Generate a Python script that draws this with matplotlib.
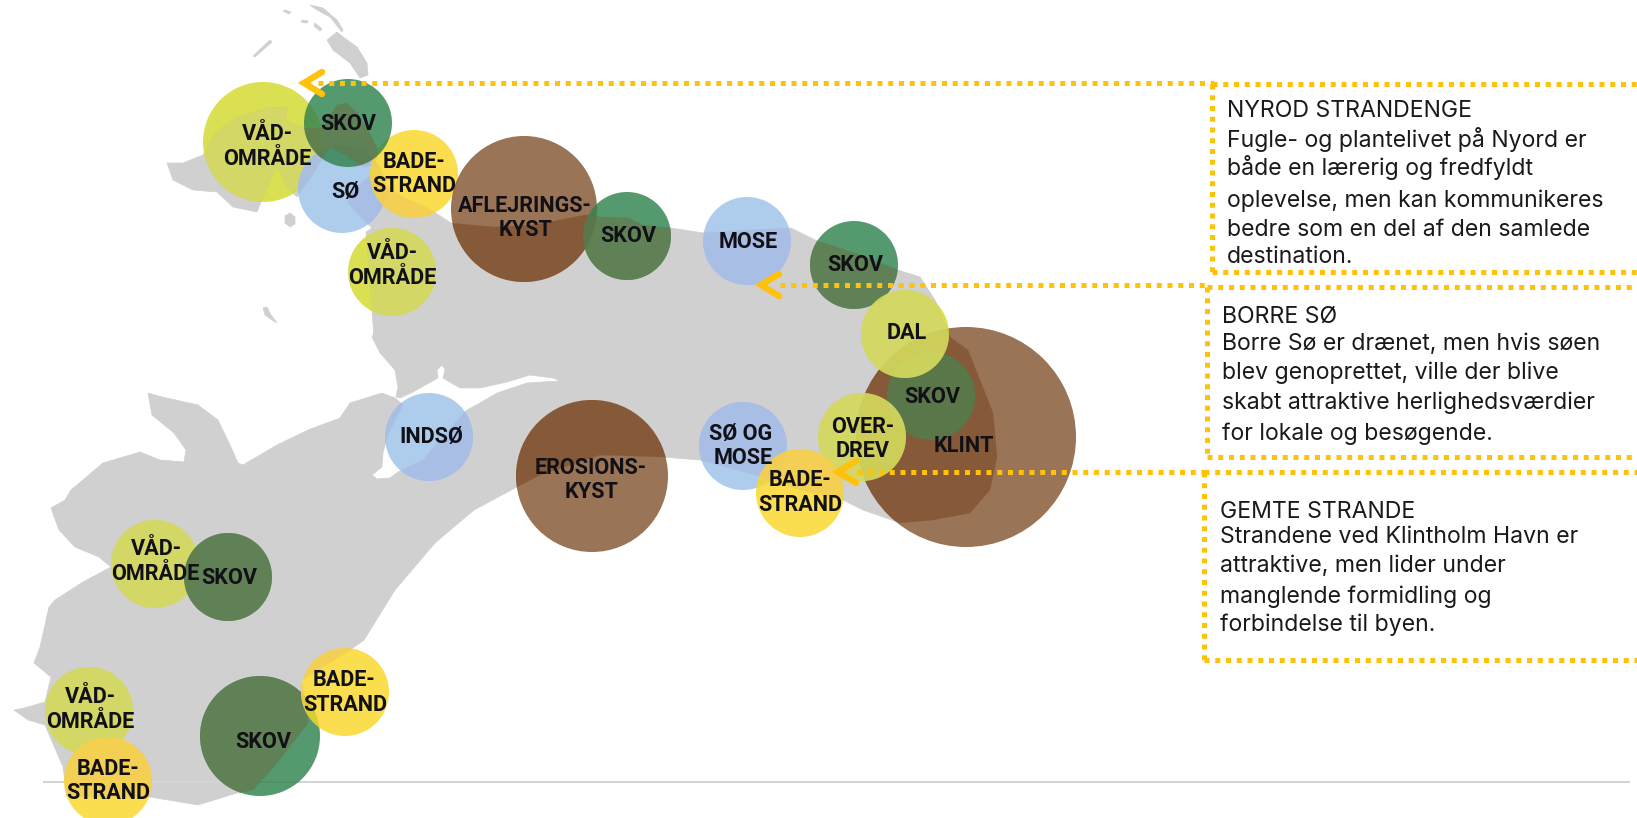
import numpy as np
import matplotlib
matplotlib.use("Agg")
import matplotlib.pyplot as plt
from matplotlib.patches import Circle, Polygon
from matplotlib.colors import to_rgb

# ---- background map outlines ----
land_main_x = [366,372,356,348,352,372,376,403,431,451,494,534,585,600,628,643,671,703,750,791,815,860,898,920,935,950,968,980,993,997,990,970,933,900,883,863,843,800,756,700,663,600,540,515,474,435,395,364,350,302,304,308,277,253,237,198,150,119,67,63,45,28,14,24,45,51,34,40,49,55,83,111,99,75,59,51,65,71,103,140,160,184,186,174,152,148,162,198,218,230,238,243,277,308,340,350,382,395,403,395,387,383,382,372,377,390,398,423,440,467,480,497,527,560,553,530,507,480,460,443,445,442,437,438,413,400,396,398,395,380,372,382,384,374,366]
land_main_y = [232,228,212,203,190,175,180,197,210,223,227,225,215,217,218,225,228,233,230,228,240,255,270,277,300,337,350,380,413,457,490,513,520,523,517,510,500,490,475,460,457,455,475,488,510,543,590,640,650,680,697,723,763,790,793,805,797,797,797,767,725,720,710,708,702,677,663,647,607,600,582,567,557,547,530,508,500,490,463,452,460,462,450,433,415,393,397,405,420,445,463,465,445,430,418,403,393,398,405,420,437,453,467,475,479,478,472,460,440,410,403,393,383,381,378,375,382,388,388,378,370,365,370,378,392,398,397,387,370,353,337,320,317,337,232]
nyord_x = [167,183,203,215,237,267,288,285,305,322,337,347,357,368,378,375,363,345,330,318,297,287,277,263,257,233,217,193,173]
nyord_y = [163,163,155,133,117,108,107,120,128,128,105,103,113,130,150,165,167,155,147,165,197,187,167,197,212,207,192,190,180]
islet_shapes = [
    ([327,337,343,357,367,368,360,350,333,327], [40,32,37,47,63,75,78,63,50,40]),
    ([310,323,337,343,342,330,317], [5,8,20,30,32,17,10]),
    ([285,291,289,283], [10,12,14,11]),
    ([302,308,307,301], [20,21,23,22]),
    ([315,322,320,314], [23,29,31,26]),
    ([253,270,272,255], [56,40,42,57]),
    ([285,290,295,295,290,285], [216,213,217,224,227,223]),
    ([263,267,271,277,272,265], [308,307,315,323,320,315]),
]

# ---- circles: category, centre x, centre y, radius ----
circle_kind = ["vaad","soe","bade","skov","brun","skov","vaad","soe","skov",
               "brun","skov","vaad","vaad","soe","bade",
               "brun","soe","vaad","skov","skov","bade","vaad","bade"]
circle_x = [263,342,414,348,524,627,392,747,854,
            966,931,905,862,743,800,
            592,429,155,228,260,345,89,108]
circle_y = [142,189,174,123,209,236,272,241,265,
            437,396,334,437,446,493,
            476,437,564,577,736,692,711,781]
circle_r = [60,44,44,44,73,44,44,44,44,
            110,44,44,44,44,44,
            76,44,44,44,60,44,44,44]

palette_white = {"vaad":"#dce052","skov":"#55996f","soe":"#aecdee","bade":"#fbde4f","brun":"#9a7456"}
palette_land  = {"vaad":"#d4d866","skov":"#608056","soe":"#a9bfe6","bade":"#f4d055","brun":"#875a38"}

# ---- labels ----
label_text = ["VÅD-","OMRÅDE","SKOV","SØ","BADE-","STRAND","AFLEJRINGS-","KYST","SKOV","VÅD-","OMRÅDE",
              "MOSE","SKOV","DAL","SKOV","KLINT","OVER-","DREV","SØ OG","MOSE","BADE-","STRAND",
              "EROSIONS-","KYST","INDSØ","VÅD-","OMRÅDE","SKOV","BADE-","STRAND","SKOV","VÅD-","OMRÅDE","BADE-","STRAND"]
label_x = [267,267,348,345,414,414,525,525,628,392,392,748,855,907,932,964,863,863,741,743,800,800,
           591,591,431,156,155,229,344,345,263,90,90,108,108]
label_y = [133,158,123,191,161,185,205,229,235,252,277,241,264,332,396,445,426,450,433,457,479,504,
           467,491,436,548,573,577,679,704,741,696,721,768,792]

# ---- text panels ----
panel_text = [
    ["NYROD STRANDENGE","Fugle- og plantelivet på Nyord er","både en lærerig og fredfyldt",
     "oplevelse, men kan kommunikeres","bedre som en del af den samlede","destination."],
    ["BORRE SØ","Borre Sø er drænet, men hvis søen","blev genoprettet, ville der blive",
     "skabt attraktive herlighedsværdier","for lokale og besøgende."],
    ["GEMTE STRANDE","Strandene ved Klintholm Havn er","attraktive, men lider under",
     "manglende formidling og","forbindelse til byen."],
]
panel_x = [1227,1222,1220]
panel_y = [[111,140,167,201,230,257],[317,344,373,403,434],[512,537,566,597,625]]

leader_start = [318,780,857]
leader_y = [83,285,472]
box_left = [1212,1207,1204]
box_top = [84,287,472]
box_bottom = [272,457,660]
arrow_tip = [301,758,835]

GOLD = "#ffc20a"
LAND = "#d0d0d0"
ALPHA = 0.82
TINT = 0.6

fig = plt.figure(figsize=(16.37,8.18), dpi=100)
ax = fig.add_axes([0,0,1,1])
ax.set_xlim(0,1637); ax.set_ylim(818,0); ax.axis("off")

land_polys = [list(zip(land_main_x,land_main_y)), list(zip(nyord_x,nyord_y))]
for pts in land_polys:
    ax.add_patch(Polygon(pts, closed=True, fc=LAND, ec=LAND, lw=0.5, zorder=1))
for sx,sy in islet_shapes:
    ax.add_patch(Polygon(list(zip(sx,sy)), closed=True, fc=LAND, ec=LAND, lw=0.5, zorder=1))

ax.plot([43,1630],[782,782], color="#d4d4d4", lw=1.5, zorder=1.5, solid_capstyle="butt")

def blend_colours(kind):
    w = np.array(to_rgb(palette_white[kind])); l = np.array(to_rgb(palette_land[kind]))
    base = np.clip((w-(1-ALPHA))/ALPHA, 0, 1)
    under = ALPHA*base+(1-ALPHA)*(208/255)
    tint = np.clip((l-(1-TINT)*under)/TINT, 0, 1)
    return base, tint

z = 2.0
for k,cx,cy,r in zip(circle_kind,circle_x,circle_y,circle_r):
    base,tint = blend_colours(k)
    c = Circle((cx,cy), r, fc=base, ec="none", alpha=ALPHA, zorder=z)
    ax.add_patch(c); z += 0.01
    for pts in land_polys:
        p = Polygon(pts, closed=True, fc=tint, ec="none", alpha=TINT, zorder=z)
        ax.add_patch(p)
        p.set_clip_path(Circle((cx,cy), r, transform=ax.transData))
        z += 0.01

for t,x,y in zip(label_text,label_x,label_y):
    ax.text(x,y+1,t,ha="center",va="center",family="Roboto",weight="bold",fontsize=15.6,color="#101016",zorder=10)

dots = (0,(1.0,1.15))
for i in range(3):
    ax.plot([leader_start[i],box_left[i]+2],[leader_y[i]]*2,color=GOLD,lw=3.6,ls=dots,dash_capstyle="butt",zorder=11)
    ax.plot([box_left[i],1637],[box_top[i]]*2,color=GOLD,lw=3.6,ls=dots,dash_capstyle="butt",zorder=11)
    ax.plot([box_left[i]]*2,[box_top[i],box_bottom[i]],color=GOLD,lw=3.6,ls=dots,dash_capstyle="butt",zorder=11)
    ax.plot([box_left[i],1637],[box_bottom[i]]*2,color=GOLD,lw=3.6,ls=dots,dash_capstyle="butt",zorder=11)
    tip = arrow_tip[i]; y = leader_y[i]
    ax.plot([tip+21,tip+3,tip+21],[y-11,y,y+11],color=GOLD,lw=4.6,solid_capstyle="round",solid_joinstyle="miter",zorder=12)
    for t,yy in zip(panel_text[i],panel_y[i]):
        ax.text(panel_x[i],yy,t,ha="left",va="center",family="Inter",fontsize=16.6,color="#1a1a1a",zorder=12)

fig.savefig("out.png", dpi=100, facecolor="white")
